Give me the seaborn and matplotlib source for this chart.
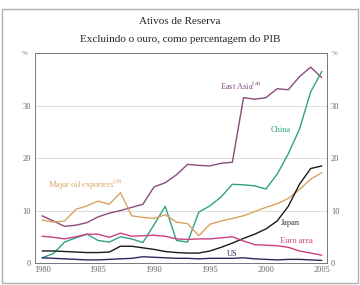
import numpy as np
import pandas as pd
import seaborn as sns
import matplotlib.pyplot as plt
from matplotlib.patches import Rectangle

years = list(range(1980, 2006))

east_asia = [9.0, 8.0, 7.0, 7.2, 7.7, 8.8, 9.5, 10.0, 10.6, 11.2, 14.5, 15.3, 16.8,
             18.8, 18.6, 18.5, 19.0, 19.2, 31.5, 31.2, 31.5, 33.2, 33.0, 35.5, 37.3, 35.3]
china = [1.0, 1.8, 4.0, 4.8, 5.5, 4.3, 4.0, 5.0, 4.6, 3.9, 7.3, 10.8, 4.3,
         4.0, 9.7, 10.9, 12.6, 15.0, 14.9, 14.7, 14.1, 16.9, 20.8, 25.5, 32.6, 36.5]
oil = [8.2, 7.8, 8.0, 10.2, 10.9, 11.8, 11.2, 13.4, 9.0, 8.7, 8.5, 9.2, 7.8,
       7.5, 5.2, 7.4, 8.0, 8.5, 9.0, 9.8, 10.6, 11.3, 12.3, 14.0, 16.0, 17.2]
japan = [2.3, 2.3, 2.2, 2.1, 2.0, 2.0, 2.1, 3.2, 3.2, 2.9, 2.6, 2.2, 2.0,
         1.9, 1.9, 2.3, 3.0, 3.8, 4.7, 5.5, 6.5, 8.0, 10.8, 15.0, 18.0, 18.5]
euro = [5.1, 4.9, 4.6, 5.0, 5.5, 5.5, 4.9, 5.7, 5.1, 5.2, 5.3, 5.1, 4.6,
        4.5, 4.6, 4.6, 4.8, 5.0, 4.2, 3.5, 3.4, 3.3, 3.0, 2.3, 1.9, 1.5]
us = [1.0, 0.9, 0.8, 0.7, 0.6, 0.6, 0.7, 0.8, 0.9, 1.2, 1.1, 1.0, 0.9,
      0.9, 0.8, 0.9, 0.9, 0.9, 1.0, 0.8, 0.7, 0.6, 0.7, 0.7, 0.6, 0.5]

series = {'East Asia': east_asia, 'China': china, 'Major oil exporters': oil,
          'Japan': japan, 'Euro area': euro, 'US': us}
colors = {'East Asia': '#8a4a7c', 'China': '#32a084', 'Major oil exporters': '#d9a35e',
          'Japan': '#1a1a1a', 'Euro area': '#c8407e', 'US': '#2b2b5a'}

df = pd.DataFrame([(y, name, v) for name, vals in series.items() for y, v in zip(years, vals)],
                  columns=['year', 'series', 'value'])

sns.set_style('white')
plt.rcParams['font.family'] = ['Liberation Serif', 'DejaVu Serif']

fig = plt.figure(figsize=(3.6, 2.85), dpi=100)
fig.patches.append(Rectangle((0.006, 0.006), 0.988, 0.962, transform=fig.transFigure,
                             fill=False, edgecolor='#b0b0b0', linewidth=1.0))
ax = fig.add_axes([0.097, 0.077, 0.811, 0.737])

sns.lineplot(data=df, x='year', y='value', hue='series', palette=colors,
             linewidth=1.0, legend=False, ax=ax)

ax.set_xlim(1979.35, 2005.45)
ax.set_ylim(0, 40)
ax.set_xticks([1980, 1985, 1990, 1995, 2000, 2005])
ax.set_xticks(years, minor=True)
ax.set_yticks([0, 10, 20, 30])
ax.yaxis.grid(True, color='#d8d8d8', linewidth=0.6)
ax.set_axisbelow(True)
ax.set_xlabel('')
ax.set_ylabel('')
ax.tick_params(axis='x', which='both', direction='in', length=3, width=0.6,
               colors='#555555', labelsize=6, labelcolor='#666666', pad=2)
ax.tick_params(axis='y', length=0, labelsize=6, labelcolor='#666666',
               labelleft=True, labelright=True, pad=3)
for s in ax.spines.values():
    s.set_color('#777777')
    s.set_linewidth(0.7)

ax.text(-0.025, 1.0, '%', transform=ax.transAxes, ha='right', va='center',
        fontsize=5, color='#777777')
ax.text(1.018, 1.0, '%', transform=ax.transAxes, ha='left', va='center',
        fontsize=5, color='#777777')

lab = dict(fontsize=6)
ax.text(1995.9, 32.9, 'East Asia$^{(a)}$', color=colors['East Asia'], **lab)
ax.text(2000.4, 25.0, 'China', color=colors['China'], **lab)
ax.text(1980.5, 14.3, 'Major oil exporters$^{(b)}$', color=colors['Major oil exporters'], **lab)
ax.text(2001.3, 7.2, 'Japan', color='#333333', **lab)
ax.text(2001.3, 3.8, 'Euro area', color=colors['Euro area'], **lab)
ax.text(1996.5, 1.3, 'US', color=colors['US'], **lab)

fig.text(0.5, 0.925, 'Ativos de Reserva', ha='center', va='center', fontsize=8)
fig.text(0.5, 0.86, 'Excluindo o ouro, como percentagem do PIB', ha='center',
         va='center', fontsize=8)

fig.savefig('out.png', dpi=100)
